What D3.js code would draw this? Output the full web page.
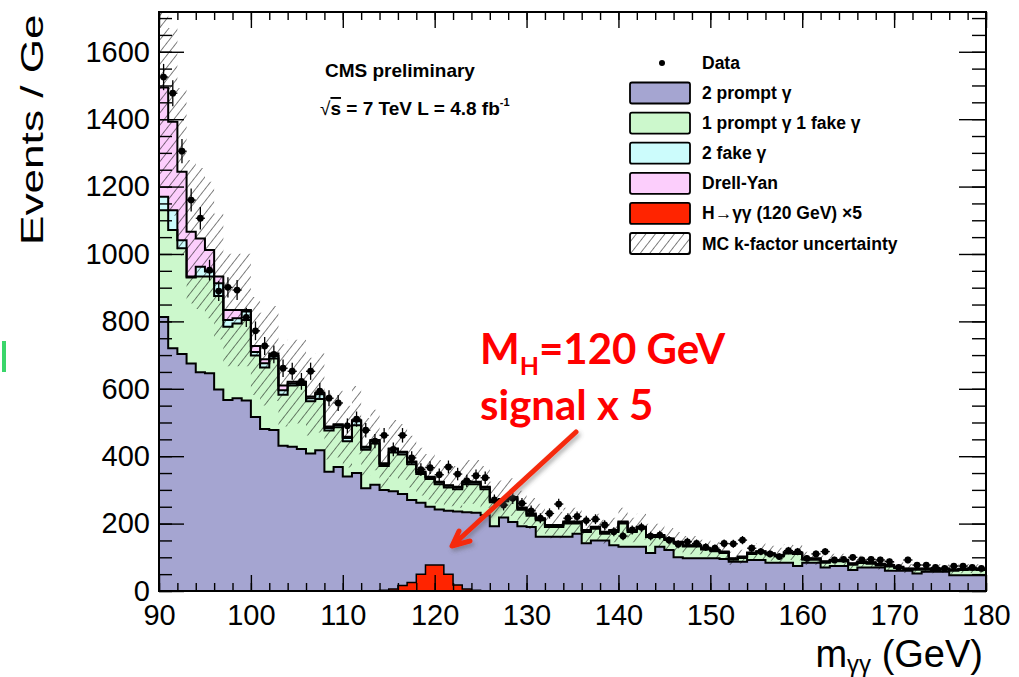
<!DOCTYPE html>
<html>
<head>
<meta charset="utf-8">
<script src="https://cdn.jsdelivr.net/npm/d3@7"></script>
<style>
  html, body { margin: 0; padding: 0; background: #fff; }
  svg { display: block; }
  text { font-family: "Liberation Sans", Arial, sans-serif; }
</style>
</head>
<body>
<svg id="chart" width="1019" height="677"></svg>
<script>
// m_gg bins, 1 GeV wide, low edges 90 .. 179
const binLow = d3.range(90, 180);

// 2 prompt photons (purple)
const prompt2 = [
	813, 720, 703, 675, 649, 646, 598, 567, 572, 565,
	516, 481, 478, 431, 428, 421, 408, 418, 354, 368,
	340, 350, 305, 315, 300, 296, 288, 270, 262, 250,
	242, 238, 236, 234, 232, 225, 192, 218, 205, 192,
	190, 161, 161, 161, 161, 170, 142, 150, 150, 136,
	131, 131, 131, 113, 131, 122, 100, 97, 97, 97,
	97, 95, 87, 87, 92, 92, 84, 84, 84, 74,
	84, 84, 70, 74, 74, 62, 70, 70, 70, 60,
	60, 60, 52, 57, 57, 57, 47, 47, 47, 47,
];

// 1 prompt + 1 fake (green)
const prompt1fake1 = [
	317, 351, 314, 255, 284, 287, 277, 217, 222, 239,
	183, 182, 212, 151, 182, 190, 155, 152, 122, 118,
	104, 142, 114, 123, 71, 115, 117, 106, 85, 82,
	75, 69, 66, 83, 85, 77, 71, 48, 67, 49,
	33, 49, 29, 29, 39, 30, 33, 35, 20, 39,
	69, 44, 54, 47, 29, 29, 42, 35, 35, 26,
	21, 18, 6, 11, 18, 22, 24, 19, 27, 36,
	9, 9, 14, 14, 14, 16, 13, 11, 6, 13,
	8, 3, 11, 6, 5, 6, 13, 15, 16, 15,
];

// 2 fake (cyan)
const fake2 = [
	40, 59, 24, 3, 29, 15, 38, 20, 15, 25,
	10, 13, 7, 14, 6, 6, 9, 14, 8, 6,
	10, 12, 6, 7, 5, 10, 6, 6, 5, 5,
	5, 5, 5, 5, 5, 5, 5, 5, 5, 5,
	5, 4, 4, 4, 4, 4, 4, 4, 4, 4,
	4, 4, 4, 4, 4, 4, 3, 3, 3, 3,
	3, 3, 3, 3, 3, 3, 3, 3, 3, 3,
	3, 3, 3, 3, 3, 3, 3, 3, 3, 3,
	3, 3, 3, 3, 3, 3, 3, 3, 3, 3,
];

// Drell-Yan (pink)
const drellYan = [
	324, 262, 203, 133, 84, 64, 20, 30, 25, 5,
	18, 12, 8, 14, 5, 4, 5, 4, 4, 3,
	4, 3, 3, 3, 3, 2, 2, 2, 2, 2,
	2, 2, 2, 2, 2, 2, 2, 2, 2, 2,
	2, 2, 2, 2, 2, 2, 2, 2, 2, 2,
	2, 2, 2, 2, 2, 1, 1, 1, 1, 1,
	1, 1, 1, 1, 1, 1, 1, 1, 1, 1,
	1, 1, 1, 1, 1, 1, 1, 1, 1, 1,
	1, 1, 1, 1, 1, 1, 1, 1, 1, 1,
];

// H -> gg (120 GeV) x5
const signalX5 = [
	0, 0, 0, 0, 0, 0, 0, 0, 0, 0,
	0, 0, 0, 0, 0, 0, 0, 0, 0, 0,
	0, 0, 0, 1, 2, 6, 16, 25, 50, 77,
	77, 50, 18, 6, 2, 1, 0, 0, 0, 0,
	0, 0, 0, 0, 0, 0, 0, 0, 0, 0,
	0, 0, 0, 0, 0, 0, 0, 0, 0, 0,
	0, 0, 0, 0, 0, 0, 0, 0, 0, 0,
	0, 0, 0, 0, 0, 0, 0, 0, 0, 0,
	0, 0, 0, 0, 0, 0, 0, 0, 0, 0,
];

// observed events
const dataCounts = [
	1525, 1477, 1305, 1160, 1106, 952, 890, 901, 893, 812,
	772, 727, 702, 661, 652, 622, 652, 593, 572, 558,
	490, 510, 477, 445, 462, 420, 462, 395, 360, 366,
	345, 368, 347, 327, 342, 336, 270, 255, 275, 260,
	238, 216, 230, 258, 216, 221, 209, 213, 196, 176,
	163, 181, 189, 163, 166, 151, 139, 146, 141, 130,
	127, 141, 140, 151, 127, 117, 110, 102, 120, 117,
	97, 110, 117, 92, 94, 100, 92, 94, 92, 87,
	70, 92, 77, 77, 70, 67, 74, 74, 70, 67,
];

const kFactorUnc = 0.2;

const xTicks = d3.range(90, 181, 10);
const xMinor = d3.range(90, 181, 2);
const yTicks = d3.range(0, 1601, 200);
const yMinor = d3.range(0, 1701, 50);

const legendItems = [
	{ label: "2 prompt \u03b3", fill: "#a5a5d1" },
	{ label: "1 prompt \u03b3 1 fake \u03b3", fill: "#ccf8cc" },
	{ label: "2 fake \u03b3", fill: "#ccfcfc" },
	{ label: "Drell-Yan", fill: "#fccefc" },
	{ label: "H\u2192\u03b3\u03b3 (120 GeV) \u00d75", fill: "#ff2400" },
	{ label: "MC k-factor uncertainty", fill: "url(#hatch)" },
];
const layerColors = ["#a5a5d1", "#ccf8cc", "#ccfcfc", "#fccefc"];

const svg = d3.select("#chart");
const plotL = 159, plotR = 986, plotT = 12, plotB = 591;

const x = d3.scaleLinear().domain([90, 180]).range([plotL, plotR]);
const y = d3.scaleLinear().domain([0, 1718]).range([plotB, plotT]);

const defs = svg.append("defs");
defs.append("clipPath").attr("id", "plotclip")
	.append("rect").attr("x", plotL).attr("y", plotT)
	.attr("width", plotR - plotL).attr("height", plotB - plotT);
const hatch = defs.append("pattern").attr("id", "hatch")
	.attr("patternUnits", "userSpaceOnUse")
	.attr("width", 7.5).attr("height", 7.5)
	.attr("patternTransform", "rotate(38)");
hatch.append("line").attr("x1", 0).attr("y1", 0).attr("x2", 0).attr("y2", 7.5)
	.attr("stroke", "#000").attr("stroke-width", 1);
const shadow = defs.append("filter").attr("id", "shadow")
	.attr("x", "-20%").attr("y", "-20%").attr("width", "140%").attr("height", "140%");
shadow.append("feDropShadow").attr("dx", 2).attr("dy", 3)
	.attr("stdDeviation", 2).attr("flood-color", "#555").attr("flood-opacity", 0.45);

// stack of backgrounds
const rows = binLow.map((m, i) => ({
	m,
	prompt: prompt2[i],
	fake1: prompt1fake1[i],
	fake2: fake2[i],
	dy: drellYan[i],
}));
const stack = d3.stack().keys(["prompt", "fake1", "fake2", "dy"])(rows);

// turn bins into step points
function steps(list, lo, hi) {
	return list.flatMap((d) => [
		{ x: d.m, y0: lo(d), y1: hi(d) },
		{ x: d.m + 1, y0: lo(d), y1: hi(d) },
	]);
}

const area = d3.area().x((p) => x(p.x)).y0((p) => y(p.y0)).y1((p) => y(p.y1));
const topLine = d3.line().x((p) => x(p.x)).y((p) => y(p.y1));

const plot = svg.append("g").attr("clip-path", "url(#plotclip)");

stack.forEach((layer, k) => {
	const pts = steps(layer.map((d) => ({ m: d.data.m, s: d })), (d) => d.s[0], (d) => d.s[1]);
	plot.append("path").attr("d", area(pts)).attr("fill", layerColors[k]);
});
stack.forEach((layer) => {
	const pts = steps(layer.map((d) => ({ m: d.data.m, s: d })), (d) => d.s[0], (d) => d.s[1]);
	plot.append("path").attr("d", topLine(pts))
		.attr("fill", "none").attr("stroke", "#000").attr("stroke-width", 2);
});

// k-factor uncertainty band around MC total
const totals = stack[stack.length - 1].map((d) => ({ m: d.data.m, t: d[1] }));
plot.append("path")
	.attr("d", area(steps(totals, (d) => d.t * (1 - kFactorUnc), (d) => d.t * (1 + kFactorUnc))))
	.attr("fill", "url(#hatch)");

// signal
const sig = binLow.map((m, i) => ({ m, v: signalX5[i] })).filter((d) => d.v > 0);
const sigPts = steps(sig, () => 0, (d) => d.v);
plot.append("path").attr("d", area(sigPts)).attr("fill", "#ff2400");
plot.append("path").attr("d", topLine(sigPts))
	.attr("fill", "none").attr("stroke", "#000").attr("stroke-width", 1.5);

// data points
const pts = binLow.map((m, i) => ({ m, v: dataCounts[i] }));
const dg = plot.append("g");
dg.selectAll(".ev").data(pts).enter().append("line")
	.attr("x1", (d) => x(d.m + 0.5)).attr("x2", (d) => x(d.m + 0.5))
	.attr("y1", (d) => y(d.v - Math.sqrt(d.v))).attr("y2", (d) => y(d.v + Math.sqrt(d.v)))
	.attr("stroke", "#000").attr("stroke-width", 1.3);
dg.selectAll(".eh").data(pts).enter().append("line")
	.attr("x1", (d) => x(d.m)).attr("x2", (d) => x(d.m + 1))
	.attr("y1", (d) => y(d.v)).attr("y2", (d) => y(d.v))
	.attr("stroke", "#000").attr("stroke-width", 1.3);
dg.selectAll("circle").data(pts).enter().append("circle")
	.attr("cx", (d) => x(d.m + 0.5)).attr("cy", (d) => y(d.v))
	.attr("r", 3.4).attr("fill", "#000");

// axes, ROOT style ticks inside the frame
function styleAxis(g, size) {
	g.select(".domain").remove();
	g.selectAll("line").attr("stroke", "#000").attr("stroke-width", 1.4);
	g.selectAll("text").attr("font-size", size)
		.attr("font-family", "'Liberation Sans', Arial, sans-serif").attr("fill", "#000");
}
svg.append("g").attr("transform", `translate(${plotL},0)`)
	.call(d3.axisLeft(y).tickValues(yMinor).tickSize(-13).tickFormat(""))
	.call((g) => styleAxis(g, 0));
svg.append("g").attr("transform", `translate(${plotL},0)`)
	.call(d3.axisLeft(y).tickValues(yTicks).tickFormat(d3.format("d"))
		.tickSizeInner(-25).tickSizeOuter(0).tickPadding(9))
	.call((g) => styleAxis(g, 29));
svg.append("g").attr("transform", `translate(${plotR},0)`)
	.call(d3.axisRight(y).tickValues(yMinor).tickSize(-14).tickFormat(""))
	.call((g) => styleAxis(g, 0));
svg.append("g").attr("transform", `translate(${plotR},0)`)
	.call(d3.axisRight(y).tickValues(yTicks).tickSize(-27).tickFormat(""))
	.call((g) => styleAxis(g, 0));
svg.append("g").attr("transform", `translate(0,${plotB})`)
	.call(d3.axisBottom(x).tickValues(xMinor).tickSize(-8).tickFormat(""))
	.call((g) => styleAxis(g, 0));
svg.append("g").attr("transform", `translate(0,${plotB})`)
	.call(d3.axisBottom(x).tickValues(xTicks).tickSizeInner(-16).tickSizeOuter(0).tickPadding(13))
	.call((g) => styleAxis(g, 29));
svg.append("g").attr("transform", `translate(0,${plotT})`)
	.call(d3.axisTop(x).tickValues(xMinor).tickSize(-8).tickFormat(""))
	.call((g) => styleAxis(g, 0));
svg.append("g").attr("transform", `translate(0,${plotT})`)
	.call(d3.axisTop(x).tickValues(xTicks).tickSize(-16).tickFormat(""))
	.call((g) => styleAxis(g, 0));

svg.append("rect").attr("x", plotL).attr("y", plotT)
	.attr("width", plotR - plotL).attr("height", plotB - plotT)
	.attr("fill", "none").attr("stroke", "#000").attr("stroke-width", 2);

// axis titles (the slide crops the y title after "Ge")
svg.append("text")
	.attr("transform", "translate(43,245) rotate(-90) scale(1.38,1)")
	.attr("font-size", 32).attr("fill", "#000")
	.text("Events / Ge");

const xt = svg.append("text").attr("x", 983).attr("y", 667)
	.attr("text-anchor", "end").attr("font-size", 38).attr("fill", "#000");
xt.append("tspan").text("m");
xt.append("tspan").attr("font-size", 24).attr("dy", 5).text("\u03b3\u03b3");
xt.append("tspan").attr("dy", -5).text(" (GeV)");

// CMS label
svg.append("text").attr("x", 325).attr("y", 77)
	.attr("font-size", 19).attr("font-weight", "bold").text("CMS preliminary");
const lumi = svg.append("text").attr("x", 320).attr("y", 115)
	.attr("font-size", 19).attr("font-weight", "bold");
lumi.append("tspan").attr("font-weight", "normal").text("\u221a");
lumi.append("tspan").style("text-decoration", "overline").text("s");
lumi.append("tspan").text(" = 7 TeV L = 4.8 fb");
lumi.append("tspan").attr("font-size", 11).attr("dy", -9).text("-1");

// legend
const lg = svg.append("g").attr("font-weight", "bold").attr("font-size", 17.5);
lg.append("circle").attr("cx", 662).attr("cy", 63).attr("r", 3).attr("fill", "#000");
lg.append("text").attr("x", 702).attr("y", 69).text("Data");
legendItems.forEach((it, i) => {
	const cy = 93 + i * 30.1;
	lg.append("rect").attr("x", 630).attr("y", cy - 10.5)
		.attr("width", 60).attr("height", 21).attr("rx", 2)
		.attr("fill", it.fill).attr("stroke", "#000").attr("stroke-width", 1.8);
	lg.append("text").attr("x", 702).attr("y", cy + 6).text(it.label);
});

// red annotation from the slide
const ann = svg.append("g").attr("fill", "#ff0000").attr("font-weight", "bold");
const a1 = ann.append("text").attr("x", 480).attr("y", 364).attr("font-size", 42)
	.style("font-family", "Lato, 'Open Sans', sans-serif");
a1.append("tspan").text("M");
a1.append("tspan").attr("font-size", 25).attr("dy", 11).text("H");
a1.append("tspan").attr("dy", -11).text("=120 GeV");
ann.append("text").attr("x", 480).attr("y", 420).attr("font-size", 42)
	.style("font-family", "Lato, 'Open Sans', sans-serif").text("signal x 5");

svg.append("path")
	.attr("d", "M576,432 L453,545 M459,531 L452,546 L470,541")
	.attr("fill", "none").attr("stroke", "#f52a10").attr("stroke-width", 5)
	.attr("stroke-linecap", "round").attr("stroke-linejoin", "round")
	.attr("filter", "url(#shadow)");

// leftover slide mark
svg.append("rect").attr("x", 2).attr("y", 341).attr("width", 4).attr("height", 31)
	.attr("fill", "#3ad66a");
</script>
</body>
</html>
